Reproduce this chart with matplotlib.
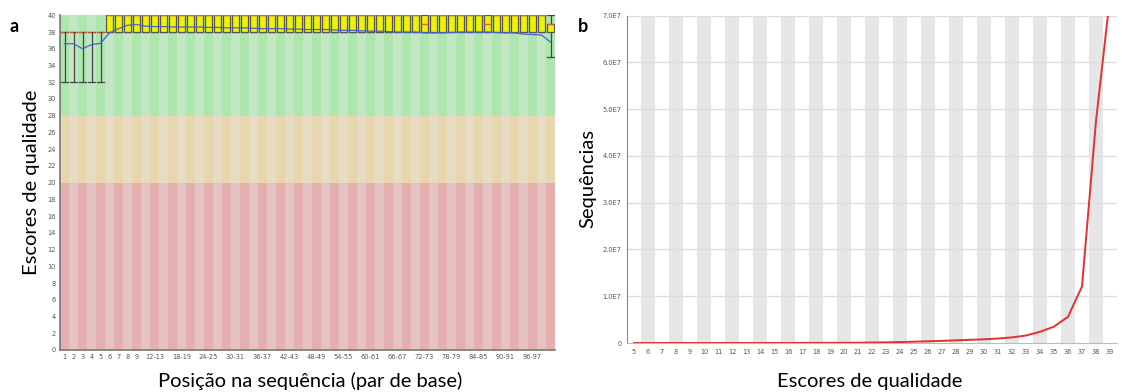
import numpy as np
import matplotlib
matplotlib.use("Agg")
import matplotlib.pyplot as plt
from matplotlib.patches import Rectangle

# ---- panel a: per-base quality (FastQC style) ----
positions = [str(i) for i in range(1, 10)] + \
    ["%d-%d" % (i, i + 1) for i in range(10, 100, 2)] + ["100"]

mean_q = [36.6, 36.6, 36.0, 36.5, 36.65, 37.9, 38.4, 38.8, 38.9, 38.7,
          38.65, 38.65, 38.6, 38.6, 38.6, 38.6, 38.55, 38.55, 38.5, 38.5,
          38.5, 38.45, 38.4, 38.4, 38.4, 38.35, 38.35, 38.3, 38.3, 38.3,
          38.25, 38.2, 38.2, 38.15, 38.1, 38.1, 38.05, 38.0, 38.0, 38.0,
          37.9, 37.9, 37.9, 37.95, 38.0, 38.0, 38.0, 38.0, 37.95, 37.9,
          37.9, 37.75, 37.7, 37.65, 36.8]
median_q = [38] * 5 + [40] * 35 + [39] + [40] * 6 + [39] + [40] * 6 + [39]
q1 = [38] * 55
q3 = [38] * 5 + [40] * 49 + [39]
p10 = [32] * 5 + [38] * 49 + [35]
p90 = [38] * 5 + [40] * 50

xtick_idx = list(range(9)) + list(range(10, 53, 3))

# ---- panel b: per-sequence quality scores ----
scores = list(range(5, 40))
counts_e7 = [0.0, 0.0, 0.0, 0.0, 0.0, 0.0, 0.0, 0.0, 0.0, 0.0,
             0.001, 0.001, 0.002, 0.003, 0.004, 0.005, 0.007, 0.01, 0.015, 0.02,
             0.028, 0.036, 0.046, 0.057, 0.068, 0.079, 0.095, 0.12, 0.16, 0.24,
             0.35, 0.56, 1.21, 4.75, 7.4]
counts = np.array(counts_e7) * 1e7

W, H = 1122, 392
fig = plt.figure(figsize=(W / 100, H / 100), dpi=100)
label_font = ["Lato", "DejaVu Sans"]

ax1 = fig.add_axes([60 / W, (H - 350) / H, 495 / W, (350 - 15.3) / H])
n = len(positions)
ax1.set_xlim(0, n)
ax1.set_ylim(0, 40)

bands = [(0, 20, (230, 175, 175), (230, 195, 195)),
         (20, 28, (230, 215, 175), (230, 220, 195)),
         (28, 40, (175, 230, 175), (195, 230, 195))]
for lo, hi, c_dark, c_light in bands:
    for i in range(n):
        c = c_dark if i % 2 == 0 else c_light
        ax1.add_patch(Rectangle((i, lo), 1, hi - lo, color=np.array(c) / 255,
                                lw=0, zorder=0))

bw = 0.72
for i in range(n):
    xc = i + 0.5
    ax1.plot([xc, xc], [p10[i], q1[i]], color="#444444", lw=0.9, zorder=2)
    ax1.plot([xc, xc], [q3[i], p90[i]], color="#444444", lw=0.9, zorder=2)
    for yv in (p10[i], p90[i]):
        ax1.plot([xc - 0.35, xc + 0.35], [yv, yv], color="#444444", lw=0.9, zorder=2)
    if q3[i] > q1[i]:
        ax1.add_patch(Rectangle((xc - bw / 2, q1[i]), bw, q3[i] - q1[i],
                                facecolor="#f2f200", edgecolor="#555555",
                                lw=0.9, zorder=3))
    ax1.plot([xc - bw / 2, xc + bw / 2], [median_q[i]] * 2, color="#e85c2c",
             lw=1.0, zorder=4, solid_capstyle="butt",
             dashes=(2, 1.5) if q3[i] == q1[i] else (None, None))

ax1.plot(np.arange(n) + 0.5, mean_q, color="#4a5fd0", lw=0.9, zorder=5)

ax1.set_yticks(range(0, 41, 2))
ax1.set_xticks([i + 0.5 for i in xtick_idx])
ax1.set_xticklabels([positions[i] for i in xtick_idx])
ax1.tick_params(length=0, labelsize=4.8, labelcolor="#555555", pad=3)
for s in ("top", "right"):
    ax1.spines[s].set_visible(False)
for s in ("left", "bottom"):
    ax1.spines[s].set_color("#777777")
    ax1.spines[s].set_linewidth(1.2)

fig.text(32 / W, 1 - 182 / H, "Escores de qualidade", rotation=90,
         ha="center", va="center", fontsize=14.5, family=label_font)
fig.text(310 / W, 1 - 381 / H, "Posição na sequência (par de base)",
         ha="center", va="center", fontsize=14.5, family=label_font)
fig.text(14 / W, 1 - 26 / H, "a", ha="center", va="center", fontsize=13,
         fontweight="bold", family=label_font)

# ---- panel b ----
ax2 = fig.add_axes([627 / W, (H - 343) / H, 490 / W, (343 - 15.7) / H])
ax2.set_xlim(4.5, 39.5)
ax2.set_ylim(0, 7e7)
for s in scores:
    if s % 2 == 0:
        ax2.axvspan(s - 0.5, s + 0.5, color="#e6e6e6", lw=0, zorder=0)
for v in range(1, 8):
    ax2.axhline(v * 1e7, color="#dddddd", lw=1.0, zorder=1)
ax2.plot(scores, counts, color="#e53030", lw=1.4, zorder=3)

ax2.set_xticks(scores)
ax2.set_yticks([v * 1e7 for v in range(8)])
ax2.set_yticklabels(["0"] + ["%d.0E7" % v for v in range(1, 8)])
ax2.tick_params(length=0, labelsize=4.8, labelcolor="#555555", pad=4)
for s in ("top", "right"):
    ax2.spines[s].set_visible(False)
ax2.spines["left"].set_color("#888888")
ax2.spines["bottom"].set_color("#bbbbbb")

fig.text(588 / W, 1 - 178 / H, "Sequências", rotation=90,
         ha="center", va="center", fontsize=14.5, family=label_font)
fig.text(870 / W, 1 - 381 / H, "Escores de qualidade",
         ha="center", va="center", fontsize=14.5, family=label_font)
fig.text(583 / W, 1 - 26 / H, "b", ha="center", va="center", fontsize=13,
         fontweight="bold", family=label_font)

fig.savefig("out.png", dpi=100)
